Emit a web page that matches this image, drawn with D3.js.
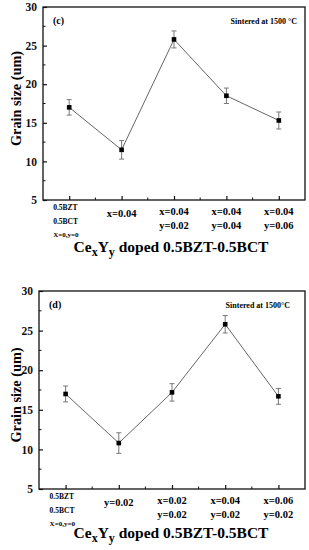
<!DOCTYPE html>
<html>
<head>
<meta charset="utf-8">
<script src="https://cdn.jsdelivr.net/npm/d3@7"></script>
<style>
body { margin: 0; background: #fff; }
text { font-family: "Liberation Serif", "Times New Roman", serif; font-weight: bold; }
</style>
</head>
<body>
<div class="chart-area"></div>
<script>
// panel (c): Ce/Y co-doped
let catsC = [["0.5BZT", "0.5BCT", "X=0,y=0"], ["x=0.04"], ["x=0.04", "y=0.02"], ["x=0.04", "y=0.04"], ["x=0.04", "y=0.06"]];
let grainC = [17.0, 11.5, 25.8, 18.5, 15.3];
let errC = [1.0, 1.2, 1.1, 1.0, 1.1];

// panel (d)
let catsD = [["0.5BZT", "0.5BCT", "X=0,y=0"], ["y=0.02"], ["x=0.02", "y=0.02"], ["x=0.04", "y=0.02"], ["x=0.06", "y=0.02"]];
let grainD = [17.0, 10.8, 17.2, 25.8, 16.7];
let errD = [1.0, 1.3, 1.1, 1.1, 1.0];

let yTicks = [5, 10, 15, 20, 25, 30];

let svg = d3.select('.chart-area').append('svg')
    .attr('width', 309)
    .attr('height', 550);

function panel(opt) {
    let g = svg.append("g").attr("transform", `translate(${opt.left},${opt.top})`);
    let width = opt.width, height = opt.height;

    let xScale = d3.scaleLinear().domain([0.5, 5.5]).range([0, width]);
    let yScale = d3.scaleLinear().domain([5, 30]).range([height, 0]);

    // frame
    g.append("rect")
        .attr("width", width).attr("height", height)
        .attr("fill", "none").attr("stroke", "#111").attr("stroke-width", 1.3);

    // y axis: inward ticks
    let yAxis = d3.axisLeft(yScale).tickValues(yTicks).tickSize(-4).tickPadding(6);
    let ya = g.append("g").call(yAxis);
    ya.select(".domain").remove();
    ya.selectAll("text").attr("font-size", 11.5).attr("fill", "#111");
    ya.selectAll("line").attr("stroke", "#111").attr("stroke-width", 1.2);
    g.selectAll(".yminor").data(d3.range(7.5, 30, 5)).enter().append("line")
        .attr("x1", 0).attr("x2", 2.5)
        .attr("y1", d => yScale(d)).attr("y2", d => yScale(d))
        .attr("stroke", "#111").attr("stroke-width", 1);

    // x axis ticks
    let xAxis = d3.axisBottom(xScale).tickValues(d3.range(1, 6)).tickSize(-4).tickFormat("");
    let xa = g.append("g").attr("transform", `translate(0,${height})`).call(xAxis);
    xa.select(".domain").remove();
    xa.selectAll("line").attr("stroke", "#111").attr("stroke-width", 1.2);
    g.selectAll(".xminor").data([1.5, 2.5, 3.5, 4.5]).enter().append("line")
        .attr("x1", d => xScale(d)).attr("x2", d => xScale(d))
        .attr("y1", height).attr("y2", height - 2.5)
        .attr("stroke", "#111").attr("stroke-width", 1);

    // category labels
    opt.cats.forEach((lines, i) => {
        if (i === 0) {
            lines.forEach((t, j) => {
                g.append("text")
                    .attr("x", xScale(1) - 16)
                    .attr("y", height + 10 + j * 13.7)
                    .attr("font-size", j === 2 ? 7 : 7.5)
                    .text(t);
            });
        } else {
            let y0 = lines.length === 1 ? height + 17 : height + 15;
            lines.forEach((t, j) => {
                g.append("text")
                    .attr("x", xScale(i + 1))
                    .attr("y", y0 + j * 14)
                    .attr("text-anchor", "middle")
                    .attr("font-size", 10.5)
                    .text(t);
            });
        }
    });

    let data = opt.values.map((v, i) => ({x: i + 1, v: v, e: opt.err[i]}));

    // line
    let line = d3.line().x(d => xScale(d.x)).y(d => yScale(d.v));
    g.append("path").datum(data)
        .attr("fill", "none").attr("stroke", "#666").attr("stroke-width", 1)
        .attr("d", line);

    // error bars
    let eb = g.selectAll(".eb").data(data).enter().append("g").attr("stroke", "#777").attr("stroke-width", 1);
    eb.append("line")
        .attr("x1", d => xScale(d.x)).attr("x2", d => xScale(d.x))
        .attr("y1", d => yScale(d.v + d.e)).attr("y2", d => yScale(d.v - d.e));
    eb.append("line")
        .attr("x1", d => xScale(d.x) - 2.5).attr("x2", d => xScale(d.x) + 2.5)
        .attr("y1", d => yScale(d.v + d.e)).attr("y2", d => yScale(d.v + d.e));
    eb.append("line")
        .attr("x1", d => xScale(d.x) - 2.5).attr("x2", d => xScale(d.x) + 2.5)
        .attr("y1", d => yScale(d.v - d.e)).attr("y2", d => yScale(d.v - d.e));

    // square markers
    g.selectAll(".pt").data(data).enter().append("rect")
        .attr("x", d => xScale(d.x) - 2.3).attr("y", d => yScale(d.v) - 2.3)
        .attr("width", 4.6).attr("height", 4.6).attr("fill", "#000");

    // panel letter and note
    g.append("text").attr("x", 10).attr("y", 17).attr("font-size", 10).text(opt.letter);
    g.append("text").attr("x", opt.noteX).attr("y", 17).attr("text-anchor", "end")
        .attr("font-size", 8).text(opt.note);

    // y title
    g.append("text")
        .attr("transform", `translate(${-opt.left + 21},${height / 2 + opt.titleShift}) rotate(-90)`)
        .attr("text-anchor", "middle")
        .attr("font-size", 15)
        .attr("textLength", 95)
        .attr("lengthAdjust", "spacingAndGlyphs")
        .text("Grain size (um)");

    // x title with subscripts
    let xt = g.append("text")
        .attr("x", 171 - opt.left)
        .attr("y", height + opt.titleDy)
        .attr("text-anchor", "middle")
        .attr("font-size", 15.5);
    xt.append("tspan").text("Ce");
    xt.append("tspan").attr("dy", 4).attr("font-size", 12).text("x");
    xt.append("tspan").attr("dy", -4).text("Y");
    xt.append("tspan").attr("dy", 4).attr("font-size", 12).text("y");
    xt.append("tspan").attr("dy", -4).text(" doped 0.5BZT-0.5BCT");
}

panel({left: 43, top: 7, width: 262, height: 193, cats: catsC, values: grainC, err: errC,
    letter: "(c)", note: "Sintered at 1500 °C", noteX: 254, titleDy: 52, titleShift: -5});
panel({left: 39, top: 291, width: 266, height: 198, cats: catsD, values: grainD, err: errD,
    letter: "(d)", note: "Sintered at 1500°C", noteX: 251, titleDy: 49, titleShift: 5});
</script>
</body>
</html>
